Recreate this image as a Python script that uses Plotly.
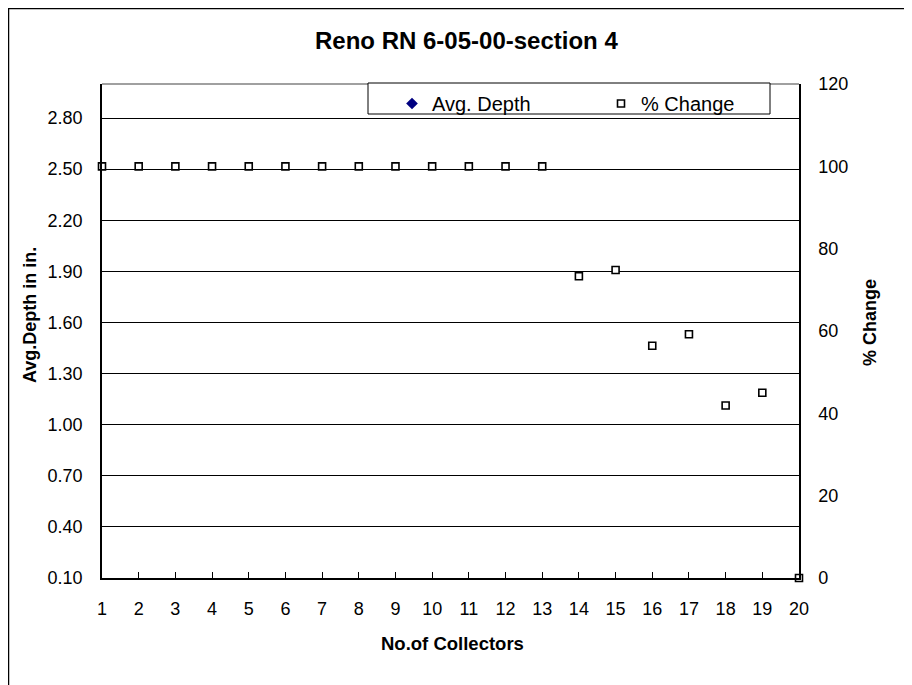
import plotly.graph_objects as go

# ---- data ----
collectors = [1, 2, 3, 4, 5, 6, 7, 8, 9, 10, 11, 12, 13, 14, 15, 16, 17, 18, 19, 20]
pct_change = [100, 100, 100, 100, 100, 100, 100, 100, 100, 100, 100, 100, 100,
              73.3, 74.8, 56.4, 59.2, 41.9, 45.0, 0]
avg_depth = [None] * 20  # no visible points in the reference
depth_ticks = [0.10, 0.40, 0.70, 1.00, 1.30, 1.60, 1.90, 2.20, 2.50, 2.80]
pct_ticks = [0, 20, 40, 60, 80, 100, 120]

FONT = "Liberation Sans, Arial, sans-serif"

# page has an 8px body margin: figure is shifted by OFF, so size it to fit
OFF = 8
FW, FH = 912 - OFF, 685 - OFF

# plot-area geometry in page px
L, R, T, B = 102, 799, 84, 578
W, H = R - L, B - T


def px(x):
    return (x - L) / W


def py(y):
    return (B - y) / H


fig = go.Figure()

fig.add_trace(go.Scatter(
    x=collectors, y=avg_depth, name="Avg. Depth", mode="markers",
    marker=dict(symbol="diamond", size=9, color="#000080",
                line=dict(width=0)),
    yaxis="y", cliponaxis=False,
))
fig.add_trace(go.Scatter(
    x=collectors, y=pct_change, name="% Change", mode="markers",
    marker=dict(symbol="square", size=7, color="white",
                line=dict(width=1.6, color="black")),
    yaxis="y2", cliponaxis=False,
))

fig.update_layout(
    width=FW, height=FH,
    margin=dict(l=L - OFF, r=912 - R, t=T - OFF, b=685 - B, pad=0),
    paper_bgcolor="white", plot_bgcolor="white",
    font=dict(family=FONT, size=18, color="black"),
    showlegend=True,
    legend=dict(
        orientation="h", x=px(392), xanchor="left", y=py(84), yanchor="top",
        bgcolor="rgba(0,0,0,0)", borderwidth=0,
        font=dict(family=FONT, size=20, color="black"),
        entrywidth=164, itemsizing="trace",
    ),
    xaxis=dict(
        range=[1, 20], tickmode="array", tickvals=collectors,
        ticktext=[str(c) for c in collectors],
        ticks="inside", ticklen=6, tickcolor="black", tickwidth=1,
        showline=True, linecolor="black", linewidth=1.5,
        showgrid=False, zeroline=False, ticklabelstandoff=14,
        tickfont=dict(size=18),
    ),
    yaxis=dict(
        range=[0.1, 3.0], tickmode="array", tickvals=depth_ticks,
        ticktext=["%.2f" % v for v in depth_ticks],
        ticks="", showline=True, linecolor="black", linewidth=1.5,
        showgrid=True, gridcolor="black", gridwidth=1, zeroline=False,
        ticklabelstandoff=14, tickfont=dict(size=18),
    ),
    yaxis2=dict(
        range=[0, 120], tickmode="array", tickvals=pct_ticks,
        ticktext=[str(v) for v in pct_ticks],
        overlaying="y", side="right", ticks="",
        showline=True, linecolor="black", linewidth=1.5,
        showgrid=False, zeroline=False, ticklabelstandoff=14,
        tickfont=dict(size=18),
    ),
    shapes=[
        # chart-area border
        dict(type="rect", xref="paper", yref="paper",
             x0=px(8.5), x1=px(930), y0=py(700), y1=py(8.5),
             line=dict(color="black", width=1.5), fillcolor="rgba(0,0,0,0)",
             layer="below"),
        # top border of plot area (gray)
        dict(type="line", xref="paper", yref="paper",
             x0=0, x1=1, y0=1, y1=1,
             line=dict(color="#808080", width=1.5), layer="above"),
        # legend box
        dict(type="rect", xref="paper", yref="paper",
             x0=px(368), x1=px(770), y0=py(114), y1=py(83),
             line=dict(color="black", width=1), fillcolor="white",
             layer="above"),
    ],
    annotations=[
        dict(text="<b>Reno RN 6-05-00-section 4</b>", xref="paper", yref="paper",
             x=px(466), y=py(41), xanchor="center", yanchor="middle",
             showarrow=False, font=dict(family=FONT, size=24, color="black")),
        dict(text="<b>No.of Collectors</b>", xref="paper", yref="paper",
             x=px(453), y=py(643), xanchor="center", yanchor="middle",
             showarrow=False, font=dict(family=FONT, size=18.5, color="black")),
        dict(text="<b>Avg.Depth in in.</b>", xref="paper", yref="paper",
             x=px(30), y=py(315), xanchor="center", yanchor="middle",
             textangle=-90, showarrow=False,
             font=dict(family=FONT, size=18, color="black")),
        dict(text="<b>% Change</b>", xref="paper", yref="paper",
             x=px(870), y=py(323), xanchor="center", yanchor="middle",
             textangle=-90, showarrow=False,
             font=dict(family=FONT, size=18, color="black")),
    ],
)

fig.write_html("out.html")
